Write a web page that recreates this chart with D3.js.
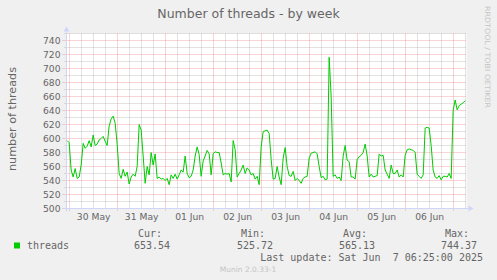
<!DOCTYPE html>
<html>
<head>
<meta charset="utf-8">
<title>Number of threads - by week</title>
<style>
    body { margin: 0; background: #f0f0f0; }
    svg { display: block; }
    text { font-family: "DejaVu Sans", sans-serif; fill: #666; }
    .mono { font-family: "DejaVu Sans Mono", monospace; }
</style>
</head>
<body>
<div id="container"></div>

<script src="https://d3js.org/d3.v7.min.js" type="text/javascript"></script>
<script type="text/javascript">
    // hourly samples, first one at 29 May 23:00 UTC
    const startTime = Date.UTC(2025, 4, 29, 23, 0);
    const threads = [
        597, 594, 555, 545, 557, 543, 545, 562, 593, 586,
        589, 597, 588, 605, 590, 592, 598, 600, 603, 596,
        590, 618, 628, 632, 622, 592, 550, 543, 556, 546,
        552, 535, 545, 549, 546, 560, 620, 612, 575, 536,
        560, 548, 580, 562, 578, 543, 545, 542, 543, 540,
        543, 534, 548, 543, 549, 542, 548, 555, 552, 575,
        550, 544, 546, 555, 575, 588, 577, 546, 568, 575,
        583, 578, 548, 578, 581, 580, 580, 565, 548, 550,
        549, 550, 538, 597, 584, 545, 550, 555, 562, 550,
        558, 555, 548, 550, 542, 546, 534, 588, 610, 611,
        612, 607, 570, 542, 543, 560, 545, 534, 572, 587,
        560, 547, 546, 553, 540, 543, 540, 536, 543, 545,
        546, 572, 579, 580, 581, 578, 560, 544, 546, 541,
        542, 716, 660, 546, 548, 543, 545, 540, 575, 590,
        569, 567, 545, 545, 542, 570, 574, 576, 580, 592,
        575, 545, 549, 545, 546, 547, 578, 575, 576, 555,
        549, 543, 562, 550, 550, 555, 545, 548, 545, 576,
        584, 585, 584, 583, 580, 549, 546, 543, 548, 615,
        616, 615, 590, 555, 545, 543, 547, 541, 546, 546,
        545, 550, 543, 640, 655, 641, 647, 649, 651, 654
    ];
    const yTicks = [500, 520, 540, 560, 580, 600, 620, 640, 660, 680, 700, 720, 740];
    const xLabels = ['30 May', '31 May', '01 Jun', '02 Jun', '03 Jun', '04 Jun', '05 Jun', '06 Jun'];
    const legendHeads = ['Cur:', 'Min:', 'Avg:', 'Max:'];
    const legendValues = ['653.54', '525.72', '565.13', '744.37'];

    let w = 497;
    let h = 280;
    const svg = d3.select('#container')
        .append('svg')
        .attr('width', w)
        .attr('height', h)
        .style('background', '#f0f0f0');

    const plot = {left: 66.5, right: 466.5, top: 33.5, bottom: 208.5};
    const hour = 3600 * 1000;

    let x = d3.scaleUtc()
        .domain([new Date(Date.UTC(2025, 4, 29, 22, 40)), new Date(Date.UTC(2025, 5, 7, 6, 40))])
        .range([plot.left, plot.right]);
    let y = d3.scaleLinear().domain([500, 750]).range([plot.bottom, plot.top]);

    const px = v => Math.floor(v) + 0.5;

    // canvas
    svg.append('rect')
        .attr('x', plot.left)
        .attr('y', plot.top)
        .attr('width', plot.right - plot.left)
        .attr('height', plot.bottom - plot.top)
        .style('fill', '#fff');

    const grid = svg.append('g');
    const minorCol = 'rgba(143,143,143,0.5)';
    const majorCol = 'rgba(232,110,110,0.6)';

    // minor horizontal grid, every 10
    d3.range(510, 751, 10).filter(v => v % 20 != 0).map(v => {
        grid.append('line')
            .attr('x1', plot.left - 2).attr('x2', plot.right)
            .attr('y1', px(y(v))).attr('y2', px(y(v)))
            .style('stroke', minorCol).style('stroke-dasharray', '1,1');
    });
    // minor vertical grid, every 6 hours
    let t0 = x.domain()[0], t1 = x.domain()[1];
    d3.utcHour.every(6).range(t0, t1).filter(d => d.getUTCHours() != 0).map(d => {
        grid.append('line')
            .attr('x1', px(x(d))).attr('x2', px(x(d)))
            .attr('y1', plot.top).attr('y2', plot.bottom)
            .style('stroke', minorCol).style('stroke-dasharray', '1,1');
    });
    // major grid
    yTicks.map(v => {
        grid.append('line')
            .attr('x1', plot.left - 4).attr('x2', plot.right)
            .attr('y1', px(y(v))).attr('y2', px(y(v)))
            .style('stroke', majorCol).style('stroke-dasharray', '1,1');
    });
    d3.utcDay.range(t0, t1).map(d => {
        grid.append('line')
            .attr('x1', px(x(d))).attr('x2', px(x(d)))
            .attr('y1', plot.top).attr('y2', plot.bottom + 3)
            .style('stroke', majorCol).style('stroke-dasharray', '1,1');
    });

    // axes with labels only
    let yAxis = d3.axisLeft(y).tickValues(yTicks).tickSize(0).tickPadding(6);
    svg.append('g')
        .attr('transform', `translate(${plot.left}, 0)`)
        .call(yAxis)
        .call(g => g.select('.domain').remove())
        .selectAll('text')
        .style('font-size', '9.2px')
        .style('fill', '#666')
        .style('font-family', '"DejaVu Sans", sans-serif');

    let noons = xLabels.map((d, i) => new Date(Date.UTC(2025, 4, 30, 12) + i * 24 * hour));
    let xAxis = d3.axisBottom(x).tickValues(noons).tickFormat((d, i) => xLabels[i]).tickSize(0).tickPadding(5);
    svg.append('g')
        .attr('transform', `translate(0, ${plot.bottom})`)
        .call(xAxis)
        .call(g => g.select('.domain').remove())
        .selectAll('text')
        .style('font-size', '9.2px')
        .style('fill', '#666')
        .style('font-family', '"DejaVu Sans", sans-serif');

    // axis lines + arrows
    const axisCol = '#cfd6f8';
    svg.append('line')
        .attr('x1', plot.left).attr('x2', plot.left)
        .attr('y1', plot.bottom + 3).attr('y2', plot.top - 3)
        .style('stroke', axisCol);
    svg.append('line')
        .attr('x1', plot.left - 3).attr('x2', plot.right + 3)
        .attr('y1', plot.bottom).attr('y2', plot.bottom)
        .style('stroke', axisCol);
    svg.append('path')
        .attr('d', `M${plot.left - 3},${plot.top - 2}L${plot.left},${plot.top - 7}L${plot.left + 3},${plot.top - 2}Z`)
        .style('fill', axisCol);
    svg.append('path')
        .attr('d', `M${plot.right + 2},${plot.bottom - 3}L${plot.right + 7},${plot.bottom}L${plot.right + 2},${plot.bottom + 3}Z`)
        .style('fill', axisCol);

    // the series
    let line = d3.line()
        .x((d, i) => x(new Date(startTime + i * hour)))
        .y(d => y(d));
    svg.append('path')
        .datum(threads)
        .attr('d', line)
        .style('fill', 'none')
        .style('stroke', '#00cc00')
        .style('stroke-width', 1);

    // titles
    svg.append('text')
        .attr('x', 248.5).attr('y', 17.5)
        .attr('text-anchor', 'middle')
        .style('font-size', '12.5px')
        .text('Number of threads - by week');

    svg.append('text')
        .attr('transform', 'translate(15.5, 119) rotate(-90)')
        .attr('text-anchor', 'middle')
        .style('font-size', '11.2px')
        .text('number of threads');

    svg.append('text')
        .attr('transform', 'translate(485, 6) rotate(90)')
        .attr('textLength', 102)
        .attr('lengthAdjust', 'spacingAndGlyphs')
        .style('font-size', '7.3px')
        .style('fill', '#c4c4c4')
        .text('RRDTOOL / TOBI OETIKER');

    // legend
    const legend = svg.append('g').attr('class', 'mono');
    let colEnds = [162, 265, 367, 469];
    legendHeads.map((d, i) => {
        legend.append('text')
            .attr('class', 'mono')
            .attr('x', colEnds[i]).attr('y', 237)
            .attr('text-anchor', 'end')
            .style('font-size', '10px')
            .text(d);
        legend.append('text')
            .attr('class', 'mono')
            .attr('x', colEnds[i] + 8).attr('y', 249)
            .attr('text-anchor', 'end')
            .style('font-size', '10px')
            .text(legendValues[i]);
    });
    legend.append('rect')
        .attr('x', 14).attr('y', 242.5)
        .attr('width', 6).attr('height', 6)
        .style('fill', '#00cc00');
    legend.append('text')
        .attr('class', 'mono')
        .attr('x', 27).attr('y', 249)
        .style('font-size', '10px')
        .text('threads');
    legend.append('text')
        .attr('class', 'mono')
        .attr('x', 483).attr('y', 261)
        .attr('text-anchor', 'end')
        .style('font-size', '10px')
        .style('white-space', 'pre')
        .attr('xml:space', 'preserve')
        .text('Last update: Sat Jun  7 06:25:00 2025');

    svg.append('text')
        .attr('x', 248).attr('y', 271.5)
        .attr('text-anchor', 'middle')
        .style('font-size', '7.5px')
        .style('fill', '#c4c4c4')
        .text('Munin 2.0.33-1');
</script>
</body>
</html>
